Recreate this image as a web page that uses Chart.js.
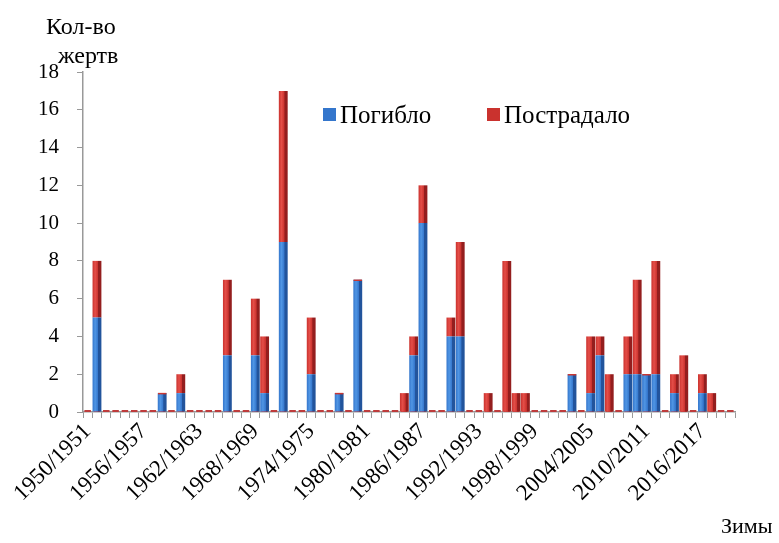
<!DOCTYPE html>
<html>
<head>
<meta charset="utf-8">
<script src="https://cdn.jsdelivr.net/npm/chart.js@4"></script>
<style>
  html, body { margin: 0; padding: 0; background: #fff; }
  #wrap { width: 779px; height: 543px; }
</style>
</head>
<body>
<div id="wrap"><canvas id="victimsChart" width="779" height="543"></canvas></div>
<script>
// winters 1950/1951 ... 2019/2020
const firstWinter = 1950;
const winterCount = 70;
const winters = [];
for (let y = firstWinter; y < firstWinter + winterCount; y++) {
  winters.push(y + '/' + (y + 1));
}
const labelEvery = 6;

const killed = [
  0, 5, 0, 0, 0, 0, 0, 0, 1, 0,
  1, 0, 0, 0, 0, 3, 0, 0, 3, 1,
  0, 9, 0, 0, 2, 0, 0, 1, 0, 7,
  0, 0, 0, 0, 0, 3, 10, 0, 0, 4,
  4, 0, 0, 0, 0, 0, 0, 0, 0, 0,
  0, 0, 2, 0, 1, 3, 0, 0, 2, 2,
  2, 2, 0, 1, 0, 0, 1, 0, 0, 0
];
const injured = [
  0, 3, 0, 0, 0, 0, 0, 0, 0, 0,
  1, 0, 0, 0, 0, 4, 0, 0, 3, 3,
  0, 8, 0, 0, 3, 0, 0, 0, 0, 0,
  0, 0, 0, 0, 1, 1, 2, 0, 0, 1,
  5, 0, 0, 1, 0, 8, 1, 1, 0, 0,
  0, 0, 0, 0, 3, 1, 2, 0, 2, 5,
  0, 6, 0, 1, 3, 0, 1, 1, 0, 0
];
const yTicks = [0, 2, 4, 6, 8, 10, 12, 14, 16, 18];

const blue = { light: 'rgb(80,150,228)', mid: 'rgb(52,118,204)', dark: 'rgb(34,84,156)' };
const red = { light: 'rgb(228,78,72)', mid: 'rgb(202,50,46)', dark: 'rgb(148,30,30)' };

const serif = "'Liberation Serif', 'Times New Roman', serif";

// shaded fill so each column looks a bit like the 3D original
function columnFill(ctx, pal) {
  const chart = ctx.chart;
  const xs = chart.scales && chart.scales.x;
  if (!xs || !chart.chartArea || ctx.dataIndex == null) return pal.mid;
  const cx = xs.getPixelForValue(ctx.dataIndex);
  const w = xs.width / winters.length * 0.95;
  const g = chart.ctx.createLinearGradient(cx - w / 2, 0, cx + w / 2, 0);
  g.addColorStop(0, pal.mid);
  g.addColorStop(0.3, pal.light);
  g.addColorStop(0.62, pal.mid);
  g.addColorStop(0.66, pal.dark);
  g.addColorStop(1, pal.dark);
  return g;
}

// red dashes along the floor (empty winters) and red caps on blue-only columns
const floorPlugin = {
  id: 'floor',
  beforeDatasetsDraw(chart) {
    const xs = chart.scales.x, ys = chart.scales.y;
    const c = chart.ctx;
    const y0 = ys.getPixelForValue(0);
    const w = xs.width / winters.length * 0.7;
    c.save();
    c.strokeStyle = 'rgb(190,60,60)';
    c.lineWidth = 2;
    winters.forEach((w0, i) => {
      const cx = xs.getPixelForValue(i);
      c.beginPath();
      c.moveTo(cx - w / 2, y0 - 1);
      c.lineTo(cx + w / 2, y0 - 1);
      c.stroke();
    });
    c.restore();
  },
  afterDatasetsDraw(chart) {
    const xs = chart.scales.x, ys = chart.scales.y;
    const c = chart.ctx;
    const w = xs.width / winters.length * 0.9;
    c.save();
    c.strokeStyle = 'rgb(200,55,50)';
    c.lineWidth = 1.5;
    killed.forEach((k, i) => {
      if (k > 0 && injured[i] === 0) {
        const cx = xs.getPixelForValue(i);
        const yt = ys.getPixelForValue(k);
        c.beginPath();
        c.moveTo(cx - w / 2, yt + 0.5);
        c.lineTo(cx + w / 2, yt + 0.5);
        c.stroke();
      }
    });
    c.restore();
  }
};

const labelsPlugin = {
  id: 'extraText',
  afterDraw(chart) {
    const c = chart.ctx;
    c.save();
    c.fillStyle = '#000';
    c.textBaseline = 'middle';
    // axis titles
    c.font = '24px ' + serif;
    c.textAlign = 'left';
    c.fillText('Кол-во', 46, 28);
    c.fillText('жертв', 58, 57);
    c.font = '22px ' + serif;
    c.fillText('Зимы', 721, 527);
    // legend
    const items = [
      { text: chart.data.datasets[0].label, color: blue.mid, x: 323 },
      { text: chart.data.datasets[1].label, color: red.mid, x: 487 }
    ];
    c.font = '25px ' + serif;
    items.forEach(it => {
      c.fillStyle = it.color;
      c.fillRect(it.x, 108, 13, 13);
      c.fillStyle = '#000';
      c.fillText(it.text, it.x + 17, 116);
    });
    c.restore();
  }
};

const ctx = document.getElementById('victimsChart').getContext('2d');
const victimsChart = new Chart(ctx, {
  type: 'bar',
  data: {
    labels: winters,
    datasets: [{
      label: 'Погибло',
      data: killed,
      backgroundColor: (c) => columnFill(c, blue),
      borderWidth: 0,
    }, {
      label: 'Пострадало',
      data: injured,
      backgroundColor: (c) => columnFill(c, red),
      borderWidth: 0,
    }],
  },
  options: {
    responsive: false,
    animation: false,
    layout: {
      padding: { left: 0, right: 44, top: 72, bottom: 0 }
    },
    datasets: {
      bar: { barPercentage: 0.95, categoryPercentage: 1 }
    },
    scales: {
      x: {
        stacked: true,
        grid: { drawOnChartArea: false, drawTicks: true, tickLength: 6, color: '#999', offset: true },
        border: { display: true, color: '#999', width: 1.5 },
        ticks: {
          autoSkip: false,
          minRotation: 45,
          maxRotation: 45,
          padding: 0,
          color: '#000',
          font: { family: serif, size: 23 },
          callback: (v, i) => (i % labelEvery === 0 ? winters[i] : ''),
        },
        afterFit(scale) { scale.height = 131; },
      },
      y: {
        stacked: true,
        min: 0,
        max: 18,
        afterBuildTicks(scale) { scale.ticks = yTicks.map(v => ({ value: v })); },
        grid: { drawOnChartArea: false, drawTicks: true, tickLength: 6, color: '#999' },
        border: { display: true, color: '#999', width: 1.5 },
        ticks: {
          padding: 18,
          color: '#000',
          font: { family: serif, size: 21 },
        },
        afterFit(scale) { scale.width = 83; },
      },
    },
    plugins: {
      legend: { display: false },
      tooltip: { enabled: false },
    },
  },
  plugins: [floorPlugin, labelsPlugin],
});
</script>
</body>
</html>
